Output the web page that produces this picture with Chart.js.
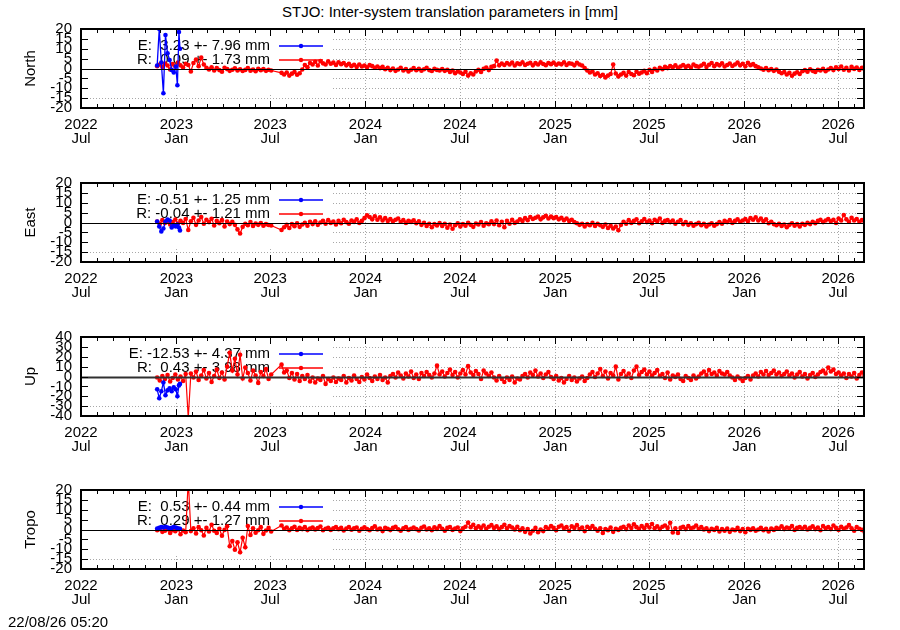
<!DOCTYPE html>
<html>
<head>
<meta charset="utf-8">
<title>STJO inter-system translation parameters</title>
<script src="https://cdn.jsdelivr.net/npm/chart.js@4.4.1/dist/chart.umd.min.js"></script>
<style>
  html, body { margin: 0; padding: 0; background: #fff; }
  #page { position: relative; width: 900px; height: 630px; overflow: hidden;
          font-family: "Liberation Sans", Arial, sans-serif; font-size: 15px; color: #000; }
  .panel { position: absolute; left: 0; width: 900px; height: 154px; }
  #title { position: absolute; top: 3px; left: 0; width: 900px; text-align: center; line-height: 17px; }
  #stamp { position: absolute; left: 8px; top: 613px; line-height: 17px; }
</style>
</head>
<body>
<div id="page">
  <div id="title">STJO: Inter-system translation parameters in [mm]</div>
  <canvas id="chart-north" class="panel" width="900" height="154" style="top:0px"></canvas>
  <canvas id="chart-east" class="panel" width="900" height="154" style="top:154px"></canvas>
  <canvas id="chart-up" class="panel" width="900" height="154" style="top:308px"></canvas>
  <canvas id="chart-tropo" class="panel" width="900" height="154" style="top:461px"></canvas>
  <div id="stamp">22/08/26 05:20</div>
</div>
<script>
// x axis: days counted from 2022-07-01
const xTickDays = [0, 184, 365, 549, 731, 915, 1096, 1280, 1461];
const xTickLabels = [
    ['2022', 'Jul'], ['2023', 'Jan'], ['2023', 'Jul'], ['2024', 'Jan'], ['2024', 'Jul'],
    ['2025', 'Jan'], ['2025', 'Jul'], ['2026', 'Jan'], ['2026', 'Jul']
];
const xMaxDay = 1511;

// R solution: one value every 5 days from day 147
const redStartDay = 147;
const redStepDays = 5;
// E solution: short series at the start
const blueDays = [147, 151, 155, 159, 163, 167, 171, 175, 179, 183, 186, 189, 191];

const northBlue = [1.5, 20, 3, -12.5, 17, 7.7, 4.3, -0.7, -2, 1, -8.5, 18.5, 10];
const northRed = [
    1.2, 2.0, 0.8, 2.5, 1.5, -0.5, 2.2, 1.0, 3.0, 1.6,
    0.5, 2.4, 1.8, -1.5, 2.8, 4.5, 1.2, 5.5, 2.0, 0.3,
    -0.5, 0.6, -1.0, 0.2, -0.8, -1.6, 0.4, -0.3, -1.2, -0.6,
    0.1, -1.0, -0.4, -1.3, -0.7, 0.2, -1.1, -0.5, -1.4, -0.2,
    -0.9, -0.3, -1.2, -0.6, -1.0, null, null, null, -2.2, -3.0,
    -2.0, -3.6, -2.6, -1.8, -3.2, -2.4, -0.5, 1.8, 0.6, 2.8,
    2.0, 3.4, 1.5, 3.8, 2.6, 2.0, 3.6, 2.4, 3.0, 1.8,
    3.2, 2.2, 2.8, 1.6, 2.4, 1.2, 1.9, 0.8, 2.0, 1.0,
    1.5, 0.6, 1.8, 1.2, 0.4, 1.0, 0.2, 0.8, -0.4, 0.3,
    -0.8, 0.0, -1.2, -0.5, 0.4, -1.0, -0.3, -1.5, -0.6, 0.2,
    -0.9, -0.2, -1.1, -0.4, 0.3, -0.8, -1.3, -0.2, -0.7, -1.0,
    -0.3, -1.2, -0.6, -1.8, -1.0, -2.4, -1.4, -2.0, -2.8, -1.6,
    -3.6, -2.4, -3.0, -1.5, -0.6, -1.8, -0.2, 0.5, -0.8, 0.8,
    1.2, 4.0, 1.6, 2.5, 1.8, 2.8, 2.0, 3.0, 1.5, 2.6,
    2.2, 3.2, 1.8, 2.4, 2.9, 1.6, 2.7, 2.0, 3.1, 2.3,
    1.7, 2.8, 2.2, 3.0, 1.9, 2.5, 2.1, 3.2, 1.8, 2.6,
    2.4, 1.6, 2.9, 2.0, 1.5, 0.2, -1.0, -2.0, -1.5, -3.0,
    -2.4, -3.8, -3.2, -4.5, -3.6, -2.8, 2.0, -2.5, -4.0, -3.0,
    -2.2, -3.6, -1.8, -2.8, -3.4, -1.6, -2.6, -2.0, -1.2, -2.4,
    -0.6, -1.8, -0.2, -1.0, 0.4, -0.4, 0.8, 0.2, 1.2, 0.6,
    1.6, 0.4, 1.0, 1.8, 0.8, 1.4, 0.5, 2.0, 1.2, 0.9,
    1.5, 2.4, 0.8, 1.9, 2.8, 1.2, 2.2, 1.6, 2.6, 1.0,
    1.8, 2.5, 1.3, 2.0, 3.0, 1.6, 2.4, 1.1, 2.9, 1.7,
    2.2, 1.2, 0.6, 0.0, -0.6, 0.2, -0.9, -0.3, -1.2, -0.5,
    -1.6, -2.4, -1.8, -3.0, -2.2, -3.7, -2.6, -1.9, -2.8, -1.4,
    -0.8, -1.6, -0.4, -1.2, -1.8, -0.6, -1.0, -0.2, -1.4, -0.5,
    0.2, -0.8, 0.6, -0.3, 1.0, -0.6, 0.4, -1.0, 0.8, -0.2,
    0.5, -0.7, 0.3, -0.4
];

const eastBlue = [0.5, -2, -4.5, -3, 0.5, 1.5, 1, -2.5, -1.5, -2, -1, -2.5, -4];
const eastRed = [
    0.5, -0.8, 1.2, -0.3, 0.8, -1.0, 0.2, 1.5, -0.5, 0.9,
    -0.2, 1.8, -3.8, 0.6, 2.4, -1.2, 1.0, 2.8, -0.6, 1.4,
    0.2, 1.9, -1.5, 0.8, -0.4, 1.2, -2.0, 0.5, -0.8, 0.3,
    -1.2, -3.5, -5.6, -2.2, -0.6, -1.4, 0.2, -1.8, -0.5, -1.2,
    -0.3, -1.6, -0.8, -1.3, -1.5, null, null, null, -3.8, -2.4,
    -1.2, -2.8, -0.8, -1.9, -0.4, -2.2, -1.0, -0.2, -1.6, 0.4,
    -0.8, 0.6, -1.2, 0.0, 0.9, -0.6, 1.2, -0.2, 0.5, -1.0,
    0.8, -0.4, 1.4, 0.2, -0.6, 1.0, 0.3, 1.6, -0.2, 0.8,
    2.2, 3.6, 2.8, 1.6, 3.2, 1.4, 2.6, 1.0, 2.2, 0.8,
    1.8, 0.6, 1.4, 2.0, 0.4, 1.2, -0.2, 0.9, 0.3, 1.1,
    -0.4, 0.6, -1.2, -0.2, -1.8, -0.6, -2.4, -0.8, -1.5, -0.3,
    -1.8, -0.6, -2.6, -1.0, -3.2, -1.4, -0.4, -2.0, -0.8, -1.6,
    -0.2, -1.2, -2.2, -0.5, -1.0, 0.2, -1.6, -0.4, -0.9, 0.6,
    -0.8, 1.0, -1.4, 0.4, -2.4, 0.8, -0.6, 1.4, -0.2, 0.5,
    1.6, 0.8, 2.2, 1.2, 2.8, 1.8, 2.4, 3.0, 1.6, 2.6,
    3.4, 2.0, 3.0, 2.2, 2.8, 1.6, 2.4, 1.2, 2.0, 0.8,
    1.4, 0.2, -0.4, -1.2, -0.6, -2.0, -0.8, -1.4, -0.2, -1.8,
    -0.6, -1.4, -2.2, -1.0, -2.8, -1.6, -3.0, -2.0, -3.9, -1.2,
    0.4, -0.6, 1.2, -0.2, 0.8, 1.6, -0.4, 0.6, 1.8, 0.2,
    1.0, -0.4, 1.4, 0.6, 2.0, -0.2, 0.8, 1.2, 0.2, 1.0,
    -0.6, 0.4, 1.2, -0.8, 0.2, -1.2, -0.4, -1.6, -0.8, -0.2,
    -1.4, -0.6, -2.0, -1.0, -0.4, -1.6, -0.8, 0.2, -0.6, 0.8,
    0.2, 1.2, -0.2, 0.8, 1.6, 0.4, 1.0, 1.8, 0.6, 2.2,
    1.4, 2.6, 1.0, 2.0, 0.6, 1.6, -0.4, 0.4, -0.8, -1.4,
    -0.6, -1.8, -1.0, -2.4, -1.2, -0.4, -1.6, -0.8, -2.0, -0.6,
    -1.2, -0.2, -0.8, 0.4, -0.4, 0.8, 1.4, 0.2, 1.0, 1.8,
    0.6, 1.4, -0.2, 2.0, 1.0, 3.8, 1.6, 0.4, 2.4, 1.0,
    1.8, 0.4, 1.2, 0.6
];

const upBlue = [-13, -22, -15, -6, -19, -14, -12, -15, -11, -13, -20, -9, -7.5];
const upRed = [
    -1.0, -4.0, 0.5, -2.5, 1.5, -5.0, -1.5, 2.0, -3.0, 0.0,
    -4.5, 2.5, -42.0, 3.0, -1.0, 5.0, -3.5, 1.0, 6.5, -2.0,
    3.5, -5.5, 0.5, 7.0, -1.5, 4.0, -3.0, 10.0, 24.0, 6.0,
    18.0, 2.0, 22.0, -2.0, 9.0, 3.5, -4.0, 6.0, 1.0, -6.5,
    4.5, 0.5, 7.5, -2.5, 2.0, null, null, null, 12.0, 4.0,
    6.0, -1.5, 3.5, -3.0, 2.5, -4.5, 0.5, -2.5, 1.5, -5.0,
    -1.0, -6.0, -2.0, -3.5, 0.5, -7.5, -2.5, -4.5, -1.0, -5.5,
    -2.0, -3.5, 0.5, -6.0, -1.5, -4.0, 1.0, -2.5, -5.5, -0.5,
    -3.0, 2.0, -1.5, -4.5, 0.0, -2.5, 1.5, -3.5, -1.0, -6.0,
    0.5, 2.5, -1.0, 4.0, 1.0, -2.0, 3.0, 0.0, 5.0, -1.5,
    2.0, -2.5, 3.5, 0.5, 4.5, 1.5, -1.0, 3.0, 11.0, 2.0,
    5.0, 0.0, 3.5, 7.0, 1.5, 4.5, -1.0, 3.0, 6.5, 2.0,
    10.5, 4.0, 1.5, 5.5, 2.5, -2.5, 6.0, 3.0, 0.5, 4.0,
    -1.0, -4.0, 0.5, -2.5, -5.5, -1.0, -3.5, 0.0, -6.0, -2.0,
    -3.0, 0.5, 2.5, -1.0, 4.0, 1.5, 6.0, 0.0, 3.0, -1.5,
    2.0, 4.5, -0.5, -2.5, 0.5, -4.0, -1.5, -6.0, -2.5, 0.5,
    -3.5, -1.0, -5.0, -2.0, 0.0, -4.5, -1.5, 2.0, 4.5, -0.5,
    3.0, 7.5, 0.5, 5.0, -2.0, 3.5, 1.0, 10.0, -3.0, 2.5,
    5.5, 0.0, 3.0, -1.5, 6.0, 10.0, 1.5, 4.5, 7.0, 2.0,
    5.0, 1.0, 3.5, 6.5, 0.5, 2.5, -1.5, 4.0, -3.0, 1.0,
    -0.5, 2.0, -2.5, -4.5, 0.5, -1.5, -3.5, 1.0, -2.0, 0.0,
    3.0, 5.0, 1.5, 6.5, 2.5, 4.0, 1.0, 5.5, 3.0, 2.0,
    4.5, 1.0, -1.0, -3.5, 0.0, -2.0, -4.5, -1.5, 0.5, -3.0,
    1.0, 3.0, 0.0, 4.5, 2.0, 5.5, 1.5, 3.5, 6.0, 2.0,
    4.0, 0.5, 2.5, 5.0, 1.0, 3.0, -1.0, 2.0, 4.5, 0.0,
    2.5, -2.0, 1.5, 3.5, -0.5, 2.0, 4.5, 6.0, 3.0, 9.0,
    5.0, 7.0, 2.5, 4.0, 1.0, 3.0, -1.5, 2.5, 0.0, 3.5,
    -2.0, 1.5, 4.0, 0.5
];

const tropoBlue = [0.5, 0.8, 1.2, 1.0, 1.4, 1.0, 0.6, 0.8, 1.3, 1.0, 0.6, 0.4, 0.3];
const tropoRed = [
    -0.4, 0.2, -1.2, -0.6, 0.1, -1.8, -0.3, -0.9, 0.3, -2.4,
    -0.5, -1.4, 25.0, -0.8, 0.6, -2.0, 1.2, -0.4, -3.0, 0.8,
    -1.0, 2.4, -0.6, -1.8, 0.4, -3.2, -0.2, 1.6, -8.5, -5.8,
    -10.2, -6.5, -11.5, -4.2, -9.0, 1.8, -2.8, 0.6, -1.6, -0.4,
    1.2, -2.2, -0.5, 0.8, -1.0, null, null, null, 2.0, 0.4,
    1.0, -0.4, 0.6, 1.4, -0.2, 0.8, 0.2, 1.2, -0.3, 0.5,
    1.0, 0.0, 0.7, 1.5, -0.4, 0.4, 0.9, -0.2, 0.6, 1.2,
    0.1, 0.8, -0.5, 0.5, 1.3, -0.1, 0.6, 1.0, -0.6, 0.3,
    1.1, 0.2, -0.4, 0.7, 1.6, 0.0, 0.5, -0.8, 0.9, 0.3,
    -0.3, 0.8, 1.4, 0.1, -0.6, 0.6, 1.2, -0.2, 0.4, 1.0,
    0.2, -0.5, 0.9, 1.5, 0.0, 0.6, -0.4, 1.1, 0.3, 1.7,
    0.4, -0.6, 0.8, 1.3, -0.2, 0.5, 1.0, -0.8, 0.6, 1.4,
    3.5, 1.2, 2.4, 0.6, 1.6, 0.8, 2.0, 0.4, 1.4, 2.2,
    0.8, 1.6, 0.2, 1.2, 2.4, 0.6, 1.8, 1.0, 0.0, 1.4,
    -0.4, 0.6, -1.2, 0.2, -2.0, -0.6, 0.8, -1.4, 0.0, -0.8,
    1.2, 0.4, 1.8, 0.8, -0.4, 1.4, 2.0, 0.6, 1.2, -0.6,
    1.6, 0.8, 2.2, 0.2, 1.0, -0.8, 1.4, 0.6, 1.8, 0.4,
    -0.6, 0.6, -1.8, 0.2, -0.4, 1.0, -1.2, 0.4, -0.2, 0.8,
    1.4, 0.2, 2.0, 0.8, 2.6, 1.2, 0.4, 1.8, 0.6, 2.2,
    1.0, 2.8, 0.6, 1.6, 0.2, 1.4, 2.0, 0.8, 3.4, -1.5,
    0.6, -1.8, 0.8, 1.4, 0.2, 1.8, 0.6, 1.0, 2.0, 0.4,
    1.2, 0.0, 0.6, -0.8, 0.4, -0.2, 0.8, -1.0, 0.2, -0.6,
    0.5, -1.2, 0.0, -0.4, 0.8, -0.8, 0.2, -1.4, 0.4, -0.2,
    0.6, -0.6, 0.0, 0.9, -0.4, 0.3, -1.0, 0.5, -0.2, 0.8,
    0.4, 1.6, 0.2, 1.0, 0.6, 1.8, -0.2, 0.8, 1.2, 0.4,
    1.4, 0.0, 0.8, 1.6, 0.2, 1.0, -0.4, 1.8, 0.6, 1.2,
    0.2, 2.0, 0.8, -0.2, 1.4, 0.4, 1.0, 2.2, 0.6, -0.6,
    1.2, 0.4, -0.2, -1.2
];

// key texts (mean +- rms per solution)
const northKeys = ['E:  3.23 +- 7.96 mm', 'R:  0.09 +- 1.73 mm'];
const eastKeys = ['E: -0.51 +- 1.25 mm', 'R: -0.04 +- 1.21 mm'];
const upKeys = ['E: -12.53 +- 4.37 mm', 'R:  0.43 +- 3.98 mm'];
const tropoKeys = ['E:  0.53 +- 0.44 mm', 'R:  0.29 +- 1.27 mm'];

const FONT = '"Liberation Sans", Arial, sans-serif';
const BLUE = '#0000ff';
const RED = '#ff0000';

// gnuplot-like frame: dotted grid, opaque key box, inward ticks, zero line
const gnuplotFrame = {
    id: 'gnuplotFrame',
    beforeDatasetsDraw(chart, args, opts) {
        const { ctx, chartArea: a, scales: { x, y } } = chart;
        ctx.save();
        ctx.strokeStyle = '#a8a8a8';
        ctx.lineWidth = 1;
        ctx.setLineDash([1, 2]);
        ctx.beginPath();
        for (let v = opts.min + opts.step; v < opts.max; v += opts.step) {
            if (v === 0) continue;
            const py = Math.round(y.getPixelForValue(v)) + 0.5;
            ctx.moveTo(a.left, py);
            ctx.lineTo(a.right, py);
        }
        xTickDays.forEach(d => {
            if (d <= 0 || d >= xMaxDay) return;
            const px = Math.round(x.getPixelForValue(d)) + 0.5;
            ctx.moveTo(px, a.top);
            ctx.lineTo(px, a.bottom);
        });
        ctx.stroke();
        ctx.setLineDash([]);

        // key box hides the grid behind it
        ctx.fillStyle = '#fff';
        ctx.fillRect(a.left, a.top, 251, (a.bottom - a.top) * 0.81);

        // key entries
        ctx.font = '15px ' + FONT;
        ctx.textAlign = 'right';
        ctx.textBaseline = 'middle';
        opts.keys.forEach((k, i) => {
            const ky = a.top + 17 + i * 14;
            ctx.fillStyle = '#000';
            ctx.fillText(k.text, a.left + 189, ky);
            ctx.strokeStyle = k.color;
            ctx.lineWidth = 1.5;
            ctx.beginPath();
            ctx.moveTo(a.left + 198, ky);
            ctx.lineTo(a.left + 242, ky);
            ctx.stroke();
            ctx.fillStyle = k.color;
            ctx.beginPath();
            ctx.arc(a.left + 220, ky, 2.2, 0, Math.PI * 2);
            ctx.fill();
        });
        ctx.restore();
    },
    afterDatasetsDraw(chart, args, opts) {
        const { ctx, chartArea: a, scales: { x, y } } = chart;
        ctx.save();
        // zero line
        const y0 = Math.round(y.getPixelForValue(0)) + 0.5;
        ctx.strokeStyle = opts.zeroColor;
        ctx.lineWidth = opts.zeroWidth;
        ctx.beginPath();
        ctx.moveTo(a.left, y0);
        ctx.lineTo(a.right, y0);
        ctx.stroke();

        // ticks
        ctx.strokeStyle = '#000';
        ctx.lineWidth = 1;
        ctx.beginPath();
        for (let v = opts.min; v <= opts.max; v += opts.step) {
            const py = Math.round(y.getPixelForValue(v)) + 0.5;
            ctx.moveTo(a.left, py);
            ctx.lineTo(a.left + 7, py);
            ctx.moveTo(a.right, py);
            ctx.lineTo(a.right - 7, py);
        }
        xTickDays.forEach(d => {
            const px = Math.round(x.getPixelForValue(d)) + 0.5;
            ctx.moveTo(px, a.bottom);
            ctx.lineTo(px, a.bottom - 7);
            ctx.moveTo(px, a.top);
            ctx.lineTo(px, a.top + 7);
        });
        const base = Date.UTC(2022, 6, 1);
        for (let m = 1; m < 60; m++) {
            const d = (Date.UTC(2022, 6 + m, 1) - base) / 864e5;
            if (d >= xMaxDay) break;
            if (xTickDays.includes(d)) continue;
            const px = Math.round(x.getPixelForValue(d)) + 0.5;
            ctx.moveTo(px, a.bottom);
            ctx.lineTo(px, a.bottom - 4);
            ctx.moveTo(px, a.top);
            ctx.lineTo(px, a.top + 4);
        }
        ctx.stroke();

        // border
        ctx.lineWidth = 2;
        ctx.strokeRect(a.left, a.top, a.right - a.left, a.bottom - a.top);
        ctx.restore();
    }
};

const panels = [
    { id: 'chart-north', label: 'North', min: -20, max: 20, step: 5, red: northRed, blue: northBlue, keys: northKeys, zeroWidth: 1.2, zeroColor: '#000' },
    { id: 'chart-east', label: 'East', min: -20, max: 20, step: 5, red: eastRed, blue: eastBlue, keys: eastKeys, zeroWidth: 1.2, zeroColor: '#000' },
    { id: 'chart-up', label: 'Up', min: -40, max: 40, step: 10, red: upRed, blue: upBlue, keys: upKeys, zeroWidth: 2, zeroColor: '#303030' },
    { id: 'chart-tropo', label: 'Tropo', min: -20, max: 20, step: 5, red: tropoRed, blue: tropoBlue, keys: tropoKeys, zeroWidth: 1.2, zeroColor: '#000' }
];

const tickFont = { family: FONT, size: 15, lineHeight: '14px' };

panels.forEach(p => {
    const redPoints = p.red.map((v, i) => ({ x: redStartDay + i * redStepDays, y: v }));
    const bluePoints = p.blue.map((v, i) => ({ x: blueDays[i], y: v }));
    const ctx = document.getElementById(p.id).getContext('2d');
    new Chart(ctx, {
        type: 'line',
        data: {
            datasets: [
                {
                    label: 'E',
                    data: bluePoints,
                    borderColor: BLUE,
                    backgroundColor: BLUE,
                    borderWidth: 1.3,
                    pointRadius: 2.3,
                    pointBorderWidth: 0,
                    tension: 0
                },
                {
                    label: 'R',
                    data: redPoints,
                    borderColor: RED,
                    backgroundColor: RED,
                    borderWidth: 1.2,
                    pointRadius: 2.3,
                    pointBorderWidth: 0,
                    spanGaps: true,
                    tension: 0
                }
            ]
        },
        options: {
            responsive: false,
            animation: false,
            events: [],
            layout: { padding: { top: 29, right: 36, left: 0, bottom: 0 } },
            plugins: {
                legend: { display: false },
                tooltip: { enabled: false },
                gnuplotFrame: {
                    min: p.min, max: p.max, step: p.step,
                    zeroWidth: p.zeroWidth, zeroColor: p.zeroColor,
                    keys: [{ text: p.keys[0], color: BLUE }, { text: p.keys[1], color: RED }]
                }
            },
            scales: {
                x: {
                    type: 'linear',
                    min: 0,
                    max: xMaxDay,
                    grid: { display: false, drawTicks: false },
                    border: { display: false },
                    afterBuildTicks: s => { s.ticks = xTickDays.map(v => ({ value: v })); },
                    afterFit: s => { s.height = 46; },
                    ticks: {
                        autoSkip: false,
                        maxRotation: 0,
                        padding: 10,
                        color: '#000',
                        font: tickFont,
                        callback: (v, i) => xTickLabels[i]
                    }
                },
                y: {
                    min: p.min,
                    max: p.max,
                    grid: { display: false, drawTicks: false },
                    border: { display: false },
                    afterFit: s => { s.width = 81; },
                    title: {
                        display: true,
                        text: p.label,
                        color: '#000',
                        font: { family: FONT, size: 15 },
                        padding: { top: 22, bottom: 0 }
                    },
                    ticks: {
                        stepSize: p.step,
                        autoSkip: false,
                        padding: 9,
                        color: '#000',
                        font: tickFont
                    }
                }
            }
        },
        plugins: [gnuplotFrame]
    });
});
</script>
</body>
</html>
